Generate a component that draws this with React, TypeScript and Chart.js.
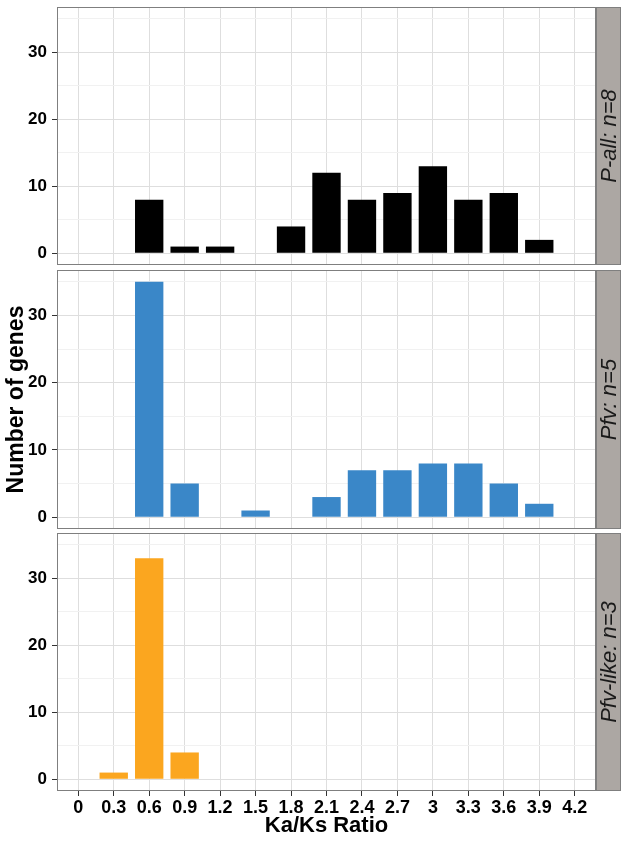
import React, { useEffect, useRef } from 'react';
import { Chart, registerables } from 'chart.js';

Chart.register(...registerables);

// ---- data ----
const binCenters = [0.3, 0.6, 0.9, 1.2, 1.5, 1.8, 2.1, 2.4, 2.7, 3.0, 3.3, 3.6, 3.9];
const pAllCounts = [0, 8, 1, 1, 0, 4, 12, 8, 9, 13, 8, 9, 2];
const pfvCounts = [0, 35, 5, 0, 1, 0, 3, 7, 7, 8, 8, 5, 2];
const pfvLikeCounts = [1, 33, 4, 0, 0, 0, 0, 0, 0, 0, 0, 0, 0];
const xTickValues = [0, 0.3, 0.6, 0.9, 1.2, 1.5, 1.8, 2.1, 2.4, 2.7, 3, 3.3, 3.6, 3.9, 4.2];
const xTickLabels = ['0', '0.3', '0.6', '0.9', '1.2', '1.5', '1.8', '2.1', '2.4', '2.7', '3', '3.3', '3.6', '3.9', '4.2'];
const yTickValues = [0, 5, 10, 15, 20, 25, 30, 35];
const yMajorLabels = ['0', '10', '20', '30'];
const panelLabels = ['P-all: n=8', 'Pfv: n=5', 'Pfv-like: n=3'];
const panelColors = ['#000000', '#3A87C8', '#FBA61F'];
const xTitle = 'Ka/Ks Ratio';
const yTitle = 'Number of genes';

const FONT = '"Liberation Sans", Arial, Helvetica, sans-serif';

const panelDeco = {
  id: 'panelDeco',
  afterDraw(chart: any, _args: any, opts: any) {
    const { ctx, chartArea: a } = chart;
    ctx.save();
    const stripW = 25;
    ctx.fillStyle = '#ACA7A3';
    ctx.fillRect(a.right, a.top, stripW, a.bottom - a.top);
    ctx.strokeStyle = '#7F7F7F';
    ctx.lineWidth = 1;
    ctx.strokeRect(Math.round(a.right) + 0.5, Math.round(a.top) + 0.5, stripW - 1, Math.round(a.bottom - a.top) - 1);
    ctx.strokeRect(Math.round(a.left) + 0.5, Math.round(a.top) + 0.5, Math.round(a.right - a.left) - 1, Math.round(a.bottom - a.top) - 1);
    ctx.translate(a.right + stripW / 2 + 1, (a.top + a.bottom) / 2);
    ctx.rotate(-Math.PI / 2);
    ctx.font = `italic 22px ${FONT}`;
    ctx.fillStyle = '#1A1A1A';
    ctx.textAlign = 'center';
    ctx.textBaseline = 'middle';
    ctx.fillText(opts.label, 0, 0);
    ctx.restore();
  },
};

type PanelCfg = {
  counts: number[];
  label: string;
  color: string;
  top: number;
  height: number;
  padTop: number;
  showX: boolean;
  showYTitle: boolean;
};

function Panel({ cfg }: { cfg: PanelCfg }) {
  const ref = useRef<HTMLCanvasElement | null>(null);
  useEffect(() => {
    if (!ref.current) return;
    const chart = new Chart(ref.current, {
      type: 'bar',
      data: {
        datasets: [
          {
            data: binCenters.map((x, i) => ({ x, y: cfg.counts[i] })),
            backgroundColor: cfg.color,
            borderWidth: 0,
            categoryPercentage: 1,
            barPercentage: 0.8,
          },
        ],
      },
      options: {
        animation: false,
        responsive: false,
        events: [],
        layout: { padding: { top: cfg.padTop, right: 31, bottom: 0, left: 0 } },
        plugins: {
          legend: { display: false },
          tooltip: { enabled: false },
          panelDeco: { label: cfg.label },
        } as any,
        scales: {
          x: {
            type: 'linear',
            min: -0.18,
            max: 4.38,
            offset: false,
            border: { display: false },
            grid: {
              offset: false,
              color: '#DEDEDE',
              lineWidth: 1,
              drawTicks: cfg.showX,
              tickLength: 5,
              tickColor: '#333333',
            },
            afterBuildTicks: (s: any) => {
              s.ticks = xTickValues.map((v) => ({ value: v }));
            },
            afterFit: (s: any) => {
              s.height = cfg.showX ? 51 : 0;
              s.paddingLeft = 0;
              s.paddingRight = 0;
              s.paddingTop = 0;
              s.paddingBottom = 0;
            },
            ticks: {
              display: cfg.showX,
              autoSkip: false,
              maxRotation: 0,
              padding: 1,
              color: '#000000',
              font: { family: FONT, size: 18, weight: 'bold' },
              callback: (_v: any, i: number) => xTickLabels[i],
            },
            title: {
              display: cfg.showX,
              text: xTitle,
              color: '#000000',
              font: { family: FONT, size: 22, weight: 'bold' },
              padding: { top: 0, bottom: 3 },
            },
          },
          y: {
            type: 'linear',
            min: -1.75,
            max: 36.75,
            border: { display: false },
            grid: {
              color: (c: any) => (c.tick && c.tick.value % 10 === 0 ? '#DEDEDE' : '#F1F1F1'),
              tickColor: (c: any) => (c.tick && c.tick.value % 10 === 0 ? '#333333' : 'rgba(0,0,0,0)'),
              tickLength: 5,
              lineWidth: 1,
            },
            afterBuildTicks: (s: any) => {
              s.ticks = yTickValues.map((v) => ({ value: v }));
            },
            afterFit: (s: any) => {
              s.width = 57;
              s.paddingLeft = 0;
              s.paddingRight = 0;
              s.paddingTop = 0;
              s.paddingBottom = 0;
            },
            ticks: {
              autoSkip: false,
              padding: 5,
              color: '#000000',
              font: { family: FONT, size: 17, weight: 'bold' },
              callback: (v: any) => (yMajorLabels.includes(String(v)) ? String(v) : ''),
            },
            title: {
              display: cfg.showYTitle,
              text: yTitle,
              color: '#000000',
              font: { family: FONT, size: 23, weight: 'bold' },
              padding: { top: 3, bottom: 0 },
            },
          },
        },
      } as any,
      plugins: [panelDeco],
    });
    return () => chart.destroy();
  }, [cfg]);
  return (
    <canvas
      ref={ref}
      width={627}
      height={cfg.height}
      style={{ position: 'absolute', left: 0, top: cfg.top, display: 'block', width: 627, height: cfg.height }}
    />
  );
}

const panels: PanelCfg[] = [
  { counts: pAllCounts, label: panelLabels[0], color: panelColors[0], top: 0, height: 265, padTop: 7, showX: false, showYTitle: false },
  { counts: pfvCounts, label: panelLabels[1], color: panelColors[1], top: 270, height: 259, padTop: 0, showX: false, showYTitle: true },
  { counts: pfvLikeCounts, label: panelLabels[2], color: panelColors[2], top: 533, height: 309, padTop: 0, showX: true, showYTitle: false },
];

export default function App() {
  return (
    <div style={{ position: 'absolute', left: 0, top: 0, width: 627, height: 842, background: '#ffffff', overflow: 'hidden' }}>
      {panels.map((p, i) => (
        <Panel key={i} cfg={p} />
      ))}
    </div>
  );
}
